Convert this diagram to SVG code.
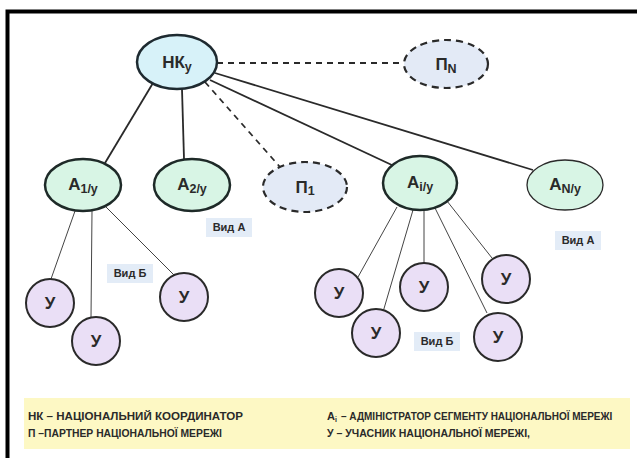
<svg xmlns="http://www.w3.org/2000/svg" width="637" height="458" viewBox="0 0 637 458">
<style>
text{font-family:"Liberation Sans","Open Sans",Arial,sans-serif;font-weight:bold;fill:#2a2a2a}
.lbl{font-size:17px;text-anchor:middle}
.sub{font-size:12.5px}
.nk{fill:#d7f2f9;stroke:#1e2a30;stroke-width:2.5}
.pn{fill:#e3eaf6;stroke:#2a2a2a;stroke-width:2.2;stroke-dasharray:7 5}
.ad{fill:#d8f5e5;stroke:#1e2a28;stroke-width:2.5}
.adt{fill:#d8f5e5;stroke:#2a2a2a;stroke-width:1.3}
.u{fill:#eadff6;stroke:#2a2a2a;stroke-width:2}
.main{stroke:#2a2a2a;stroke-width:1.8;fill:none}
.dash{stroke:#2a2a2a;stroke-width:1.8;fill:none;stroke-dasharray:6 5}
.thin{stroke:#444;stroke-width:1;fill:none}
.vid{fill:#e3ecf7}
.vt{font-size:11px;text-anchor:middle}
.lg{font-size:11px}
</style>
<rect x="0" y="0" width="637" height="458" fill="#ffffff"/>
<path d="M7.5 458 V11.5 H637" fill="none" stroke="#000" stroke-width="4"/>
<rect x="24" y="398" width="606" height="51" fill="#fdf8c4"/>
<g id="connectors">
<line class="main" x1="153" y1="83" x2="105" y2="163"/>
<line class="main" x1="182" y1="89" x2="184" y2="159"/>
<line class="dash" x1="205" y1="82" x2="280" y2="167"/>
<line class="main" x1="210" y1="80" x2="394" y2="166"/>
<line class="main" x1="215" y1="73" x2="533" y2="170"/>
<line class="dash" x1="217" y1="63" x2="404" y2="63"/>
<line class="thin" x1="75" y1="211" x2="51" y2="279"/>
<line class="thin" x1="92" y1="211" x2="91" y2="318"/>
<line class="thin" x1="106" y1="207" x2="175" y2="276"/>
<line class="thin" x1="397" y1="207" x2="358" y2="277"/>
<line class="thin" x1="413" y1="210" x2="383" y2="312"/>
<line class="thin" x1="424" y1="210" x2="424" y2="263"/>
<line class="thin" x1="435" y1="208" x2="487" y2="313"/>
<line class="thin" x1="447" y1="201" x2="492" y2="258"/>
</g>
<g id="nk"><ellipse class="nk" cx="177" cy="62" rx="40" ry="27"/><text class="lbl" x="177" y="68">НК<tspan class="sub" dy="3">у</tspan></text></g>
<g id="pn"><ellipse class="pn" cx="446" cy="64" rx="42" ry="24"/><text class="lbl" x="446" y="70">П<tspan class="sub" dy="3">N</tspan></text></g>
<g id="a1"><ellipse class="ad" cx="83" cy="185" rx="38" ry="26"/><text class="lbl" x="83" y="190">А<tspan class="sub" dy="3">1/у</tspan></text></g>
<g id="a2"><ellipse class="ad" cx="192" cy="185" rx="38" ry="26"/><text class="lbl" x="192" y="190">А<tspan class="sub" dy="3">2/у</tspan></text></g>
<g id="p1"><ellipse class="pn" cx="305" cy="187" rx="42" ry="25"/><text class="lbl" x="305" y="193">П<tspan class="sub" dy="2">1</tspan></text></g>
<g id="ai"><ellipse class="ad" cx="420" cy="183" rx="37" ry="27"/><text class="lbl" x="420" y="188">А<tspan class="sub" dy="3">і/у</tspan></text></g>
<g id="an"><ellipse class="adt" cx="565" cy="185" rx="38" ry="25"/><text class="lbl" x="565" y="190">А<tspan class="sub" dy="3">N/у</tspan></text></g>
<g id="u1"><circle class="u" cx="50" cy="303" r="24"/><text class="lbl" x="50" y="309">У</text></g>
<g id="u2"><circle class="u" cx="96" cy="341" r="24"/><text class="lbl" x="96" y="347">У</text></g>
<g id="u3"><circle class="u" cx="184" cy="297" r="24"/><text class="lbl" x="184" y="303">У</text></g>
<g id="u4"><circle class="u" cx="339" cy="293" r="24"/><text class="lbl" x="339" y="299">У</text></g>
<g id="u5"><circle class="u" cx="376" cy="333" r="24"/><text class="lbl" x="376" y="339">У</text></g>
<g id="u6"><circle class="u" cx="424" cy="287" r="24"/><text class="lbl" x="424" y="293">У</text></g>
<g id="u7"><circle class="u" cx="498" cy="337" r="24"/><text class="lbl" x="498" y="343">У</text></g>
<g id="u8"><circle class="u" cx="506" cy="279" r="24"/><text class="lbl" x="506" y="285">У</text></g>
<g id="vid-a1"><rect class="vid" x="206" y="218" width="46" height="19"/><text class="vt" x="229" y="231">Вид А</text></g>
<g id="vid-a2"><rect class="vid" x="555" y="231" width="46" height="19"/><text class="vt" x="578" y="244">Вид А</text></g>
<g id="vid-b1"><rect class="vid" x="107" y="264" width="46" height="19"/><text class="vt" x="130" y="277">Вид Б</text></g>
<g id="vid-b2"><rect class="vid" x="414" y="332" width="46" height="19"/><text class="vt" x="437" y="345">Вид Б</text></g>
<g id="legend">
<text class="lg" x="28" y="420" textLength="215" lengthAdjust="spacingAndGlyphs">НК – НАЦІОНАЛЬНИЙ КООРДИНАТОР</text>
<text class="lg" x="28" y="437" textLength="194" lengthAdjust="spacingAndGlyphs">П –ПАРТНЕР НАЦІОНАЛЬНОЇ МЕРЕЖІ</text>
<text class="lg" x="327" y="420">А<tspan font-size="7" dy="2">і</tspan></text>
<text class="lg" transform="translate(341 420) scale(0.91 1)" x="0" y="0">– АДМІНІСТРАТОР СЕГМЕНТУ НАЦІОНАЛЬНОЇ МЕРЕЖІ</text>
<text class="lg" x="327" y="437" textLength="203" lengthAdjust="spacingAndGlyphs">У – УЧАСНИК НАЦІОНАЛЬНОЇ МЕРЕЖІ,</text>
</g>
</svg>
